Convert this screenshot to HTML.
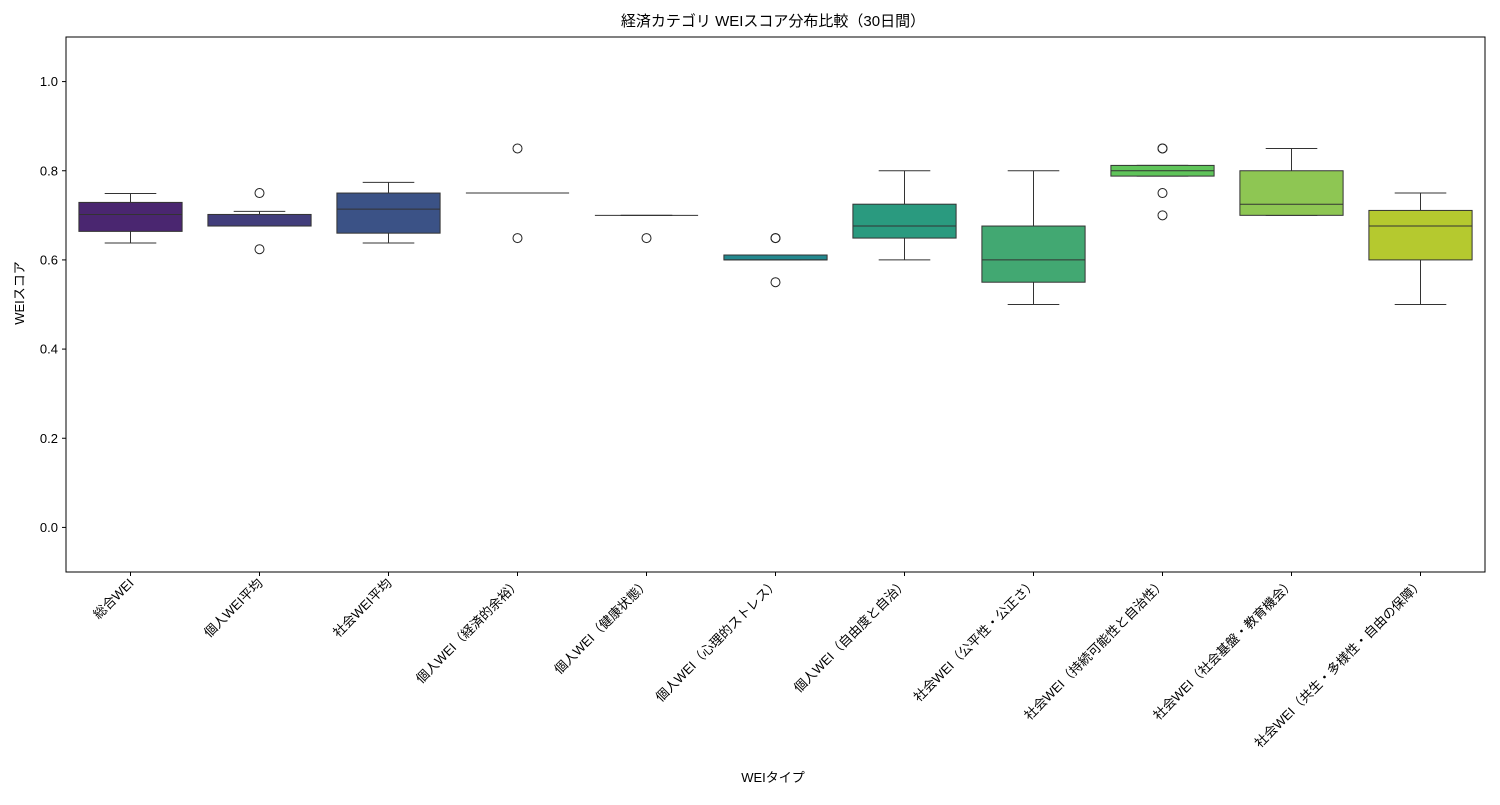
<!DOCTYPE html>
<html><head><meta charset="utf-8"><style>
body{margin:0;background:#fff}
svg{font-family:"Liberation Sans","Noto Sans CJK JP",sans-serif}
</style></head><body>
<svg id="chart" width="1500" height="800">
<text x="773" y="26" text-anchor="middle" font-size="15">経済カテゴリ WEIスコア分布比較（30日間）</text>
<text x="773" y="782" text-anchor="middle" font-size="13">WEIタイプ</text>
<text transform="translate(24,293) rotate(-90)" text-anchor="middle" font-size="13">WEIスコア</text>
<g id="plot"></g>
<rect x="66" y="37" width="1419" height="535" fill="none" stroke="#000" stroke-width="1"/>
</svg>
<script>
const categories=["総合WEI","個人WEI平均","社会WEI平均","個人WEI（経済的余裕）","個人WEI（健康状態）","個人WEI（心理的ストレス）","個人WEI（自由度と自治）","社会WEI（公平性・公正さ）","社会WEI（持続可能性と自治性）","社会WEI（社会基盤・教育機会）","社会WEI（共生・多様性・自由の保障）"];
const whiskerLow=[0.638,0.676,0.638,0.75,0.70,0.60,0.60,0.50,0.788,0.70,0.50];
const q1=[0.664,0.676,0.66,0.75,0.70,0.60,0.649,0.55,0.788,0.70,0.60];
const median=[0.702,0.676,0.714,0.75,0.70,0.60,0.676,0.60,0.80,0.725,0.676];
const q3=[0.729,0.702,0.75,0.75,0.70,0.611,0.725,0.676,0.812,0.80,0.711];
const whiskerHigh=[0.749,0.709,0.774,0.75,0.70,0.611,0.80,0.80,0.812,0.85,0.75];
const outliers=[[],[0.75,0.624],[],[0.85,0.649],[0.649],[0.649,0.649,0.55],[],[],[0.85,0.85,0.75,0.70],[],[]];
const colors=["#4a2670","#413d7b","#3b5286","#35658b","#2f778e","#23888e","#2a9a7f","#42a872","#5fc45a","#8ec653","#b5c92f"];
const yTicks=[0.0,0.2,0.4,0.6,0.8,1.0];
const X0=66,X1=1485,Y0=37,Y1=572,ymin=-0.1,ymax=1.1;
const band=(X1-X0)/categories.length;
const xs=i=>X0+band*(i+0.5);
const ys=v=>Y1-(v-ymin)/(ymax-ymin)*(Y1-Y0);
const NS="http://www.w3.org/2000/svg";
const g=document.getElementById('plot');
function mk(t,a,p){const e=document.createElementNS(NS,t);for(const k in a)e.setAttribute(k,a[k]);(p||g).appendChild(e);return e;}
yTicks.forEach(v=>{
 const y=ys(v);
 const l=mk('line',{x1:X0-4,x2:X0,y1:y,y2:y,stroke:'#000'});
 
 
 const t=mk('text',{x:X0-8,y:y+4.5,'text-anchor':'end','font-size':13});
 t.textContent=v.toFixed(1);
 
 
});
const bw=band*0.8;
categories.forEach((c,i)=>{
 const x=xs(i);
 const grp=mk('g',{});
 
 
 mk('line',{x1:x,x2:x,y1:ys(whiskerHigh[i]),y2:ys(q3[i]),stroke:'#333'},grp);
 mk('line',{x1:x,x2:x,y1:ys(q1[i]),y2:ys(whiskerLow[i]),stroke:'#333'},grp);
 mk('line',{x1:x-bw/4,x2:x+bw/4,y1:ys(whiskerHigh[i]),y2:ys(whiskerHigh[i]),stroke:'#333'},grp);
 mk('line',{x1:x-bw/4,x2:x+bw/4,y1:ys(whiskerLow[i]),y2:ys(whiskerLow[i]),stroke:'#333'},grp);
 mk('rect',{x:x-bw/2,y:ys(q3[i]),width:bw,height:Math.max(0,ys(q1[i])-ys(q3[i])),fill:colors[i],stroke:'#333'},grp);
 mk('line',{x1:x-bw/2,x2:x+bw/2,y1:ys(median[i]),y2:ys(median[i]),stroke:'#333'},grp);
 outliers[i].forEach(v=>{
  const o=mk('circle',{cx:x,cy:ys(v),r:4.5,fill:'none',stroke:'#222'},grp);
  
  
 });
 const tk=mk('line',{x1:x,x2:x,y1:Y1,y2:Y1+4,stroke:'#000'});
 
 
 const t=mk('text',{transform:`translate(${x+4},${Y1+12}) rotate(-45)`,'text-anchor':'end','font-size':13});
 t.textContent=c;
 
 
});
</script>
</body></html>
